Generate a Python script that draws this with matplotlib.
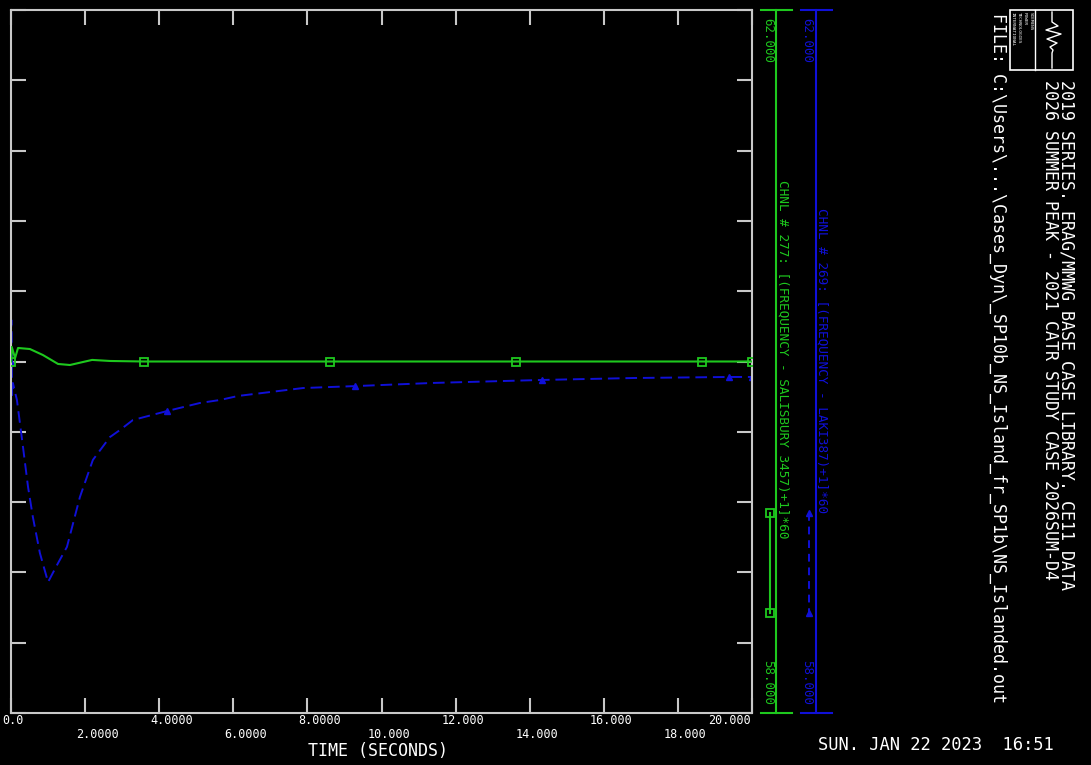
import matplotlib.pyplot as plt
from matplotlib.patches import Rectangle

# Channel 277: bus frequency at SALISBURY (Hz)
t_green = [0.0, 0.02, 0.11, 0.19, 0.51, 0.86, 1.27, 1.59, 1.94, 2.19, 2.67,
           3.59, 8.61, 13.63, 18.65, 20.0]
f_green = [60.000, 60.083, 60.020, 60.077, 60.071, 60.037, 59.986, 59.980,
           59.997, 60.009, 60.003, 60.000, 60.000, 60.000, 60.000, 60.000]
mark_green = [0, 11, 12, 13, 14, 15]

# Channel 269: bus frequency at LAKI (Hz)
t_blue = [0.0, 0.01, 0.03, 0.05, 0.16, 0.30, 0.46, 0.59, 0.78, 1.00, 1.27,
          1.51, 1.86, 2.21, 2.67, 2.94, 3.29, 4.21, 5.10, 5.64, 6.13, 7.88,
          9.28, 11.39, 14.33, 16.79, 19.38, 20.0]
f_blue = [60.000, 60.236, 59.809, 59.878, 59.781, 59.553, 59.286, 59.115,
          58.910, 58.745, 58.853, 58.945, 59.229, 59.440, 59.570, 59.610,
          59.667, 59.718, 59.764, 59.781, 59.804, 59.849, 59.860, 59.878,
          59.895, 59.906, 59.912, 59.912]
mark_blue = [0, 17, 22, 24, 26, 27]

x_ticks = [0, 2, 4, 6, 8, 10, 12, 14, 16, 18, 20]
x_labels = ['0.0', '2.0000', '4.0000', '6.0000', '8.0000', '10.000',
            '12.000', '14.000', '16.000', '18.000', '20.000']
y_min, y_max = 58.0, 62.0

green = '#1ec81e'
blue = '#1010d8'
gray = '#c8c8c8'
mono = 'DejaVu Sans Mono'

fig = plt.figure(figsize=(10.91, 7.65), dpi=100)
fig.patch.set_facecolor('black')

W, H = 1091, 765
ax = fig.add_axes([11 / W, (H - 713) / H, 741 / W, 703 / H])
ax.set_facecolor('black')

ax.plot(t_green, f_green, color=green, lw=1.5, marker='s', ms=6,
        mfc='none', mec=green, mew=1.3, markevery=mark_green, zorder=3)
ax.plot(t_blue, f_blue, color=blue, lw=1.4, dashes=(6, 3), marker='^', ms=5,
        mfc=blue, mec=blue, markevery=mark_blue, zorder=2)

ax.set_xlim(0, 20)
ax.set_ylim(y_min, y_max)
ax.set_xticks(x_ticks)
ax.set_yticks([y_min + 0.4 * i for i in range(11)])
ax.tick_params(direction='in', length=11, width=1.5, color=gray,
               top=True, right=True, labelbottom=False, labelleft=False)
for s in ax.spines.values():
    s.set_color(gray)
    s.set_linewidth(1.5)

# overlay in pixel coordinates for the annotation block
ov = fig.add_axes([0, 0, 1, 1])
ov.set_xlim(0, W)
ov.set_ylim(H, 0)
ov.axis('off')
ov.patch.set_alpha(0)

# staggered x tick labels
px_per_s = 741 / 20.0
for i, (tv, lab) in enumerate(zip(x_ticks, x_labels)):
    xp = 11 + tv * px_per_s
    yp = 721 if i % 2 == 0 else 735
    if i == len(x_ticks) - 1:
        ov.text(xp - 1, yp, lab, color='white', fontsize=8.5, family=mono,
                ha='right', va='center')
    else:
        off = 9 if i < 5 else 14
        ov.text(xp - off, yp, lab, color='white', fontsize=8.5, family=mono,
                ha='left', va='center')
ov.text(378, 751, 'TIME (SECONDS)', color='white', fontsize=12,
        family=mono, ha='center', va='center')
ov.text(936, 745, 'SUN. JAN 22 2023  16:51', color='white', fontsize=12.3,
        family=mono, ha='center', va='center')

# channel scale bars
for xc, col, lab_x in [(776, green, 768), (816, blue, 807)]:
    ov.plot([xc, xc], [10, 713], color=col, lw=1.5)
    ov.plot([xc - 15, xc + 16], [10, 10], color=col, lw=1.5)
    ov.plot([xc - 15, xc + 16], [713, 713], color=col, lw=1.5)
    ov.text(lab_x, 18, '62.000', color=col, fontsize=9, family=mono,
            rotation=-90, ha='center', va='top')
    ov.text(lab_x, 705, '58.000', color=col, fontsize=9, family=mono,
            rotation=-90, ha='center', va='bottom')

ov.text(783, 180, 'CHNL # 277: [(FREQUENCY - SALISBURY 3457)+1]*60',
        color=green, fontsize=9.2, family=mono, rotation=-90,
        ha='center', va='top')
ov.text(822, 208, 'CHNL # 269: [(FREQUENCY - LAKI387)+1]*60',
        color=blue, fontsize=9.2, family=mono, rotation=-90,
        ha='center', va='top')

# line samples
ov.plot([770, 770], [513, 613], color=green, lw=1.5, marker='s', ms=6,
        mfc='none', mec=green, mew=1.3)
ov.plot([809, 809], [513, 613], color=blue, lw=1.4, dashes=(4, 3),
        marker='^', ms=5, mfc=blue, mec=blue)

# title block
ov.text(1066, 80, '2019 SERIES. ERAG/MMWG BASE CASE LIBRARY. CE11 DATA',
        color='white', fontsize=12, family=mono, rotation=-90,
        ha='center', va='top')
ov.text(1050, 80, '2026 SUMMER PEAK - 2021 CATR STUDY CASE 2026SUM-D4',
        color='white', fontsize=12, family=mono, rotation=-90,
        ha='center', va='top')
ov.text(998, 13,
        'FILE: C:\\Users\\...\\Cases_Dyn\\_SP10b_NS_Island_fr_SP1b\\NS_Islanded.out',
        color='white', fontsize=12, family=mono, rotation=-90,
        ha='center', va='top')

# logo
ov.add_patch(Rectangle((1010, 10), 63, 60, fill=False, ec='white', lw=1.2))
ov.plot([1035, 1035], [10, 70], color='white', lw=1.0)
ov.plot([1052, 1052, 1058, 1046, 1061, 1047, 1057, 1050, 1053, 1052, 1052],
        [12, 22, 26, 30, 34, 39, 43, 47, 50, 53, 68], color='white', lw=1.0)
for xl, word in zip([1031, 1025, 1019, 1013],
                    ['SIEMENS', 'POWER', 'TECHNOLOGIES', 'INTERNATIONAL']):
    ov.text(xl, 12, word, color='white', fontsize=3.2, family=mono,
            rotation=-90, ha='center', va='top')

fig.savefig('out.png', dpi=100, facecolor='black')
